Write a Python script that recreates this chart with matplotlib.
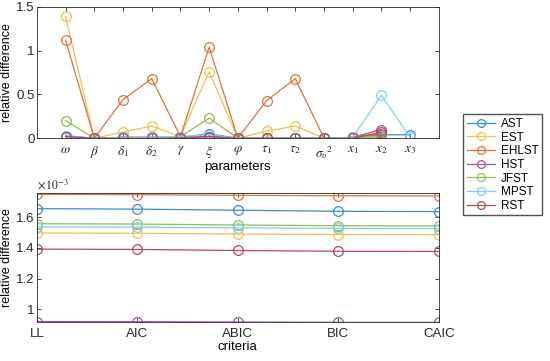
#!/usr/bin/env python3
"""Relative difference of parameter estimates (top) and information criteria (bottom) per model."""
import matplotlib
matplotlib.use("Agg")
import matplotlib.pyplot as plt  # noqa: E402

plt.rcParams["font.family"] = ["Liberation Sans", "DejaVu Sans"]
plt.rcParams["mathtext.fontset"] = "stix"

models = ["AST", "EST", "EHLST", "HST", "JFST", "MPST", "RST"]
colors = ["#3a8ccc", "#f0c050", "#e0703f", "#9a55a8", "#8fbf55", "#7fd0f0", "#b04a60"]

params = [r"$\omega$", r"$\beta$", r"$\delta_1$", r"$\delta_2$", r"$\gamma$", r"$\xi$",
          r"$\varphi$", r"$\tau_1$", r"$\tau_2$", r"$\sigma_\upsilon{}^2$",
          r"$x_1$", r"$x_2$", r"$x_3$"]

# relative difference per parameter (None = parameter not in model)
par_diff = {
    "AST":   [0.03, 0.0, 0.01, 0.01, 0.01, 0.05, 0.0, 0.0, 0.0, 0.0, 0.01, 0.04, 0.04],
    "EST":   [1.39, 0.0, 0.07, 0.14, 0.02, 0.76, 0.0, 0.08, 0.14, 0.0, 0.01, 0.01, None],
    "EHLST": [1.12, 0.0, 0.44, 0.68, 0.02, 1.04, 0.0, 0.43, 0.68, 0.0, 0.01, 0.05, None],
    "HST":   [0.02, 0.0, 0.01, 0.01, 0.01, 0.02, 0.0, 0.0, 0.0, 0.0, 0.01, 0.10, None],
    "JFST":  [0.20, 0.0, 0.01, 0.01, 0.02, 0.23, 0.0, 0.0, 0.0, 0.0, 0.01, 0.02, None],
    "MPST":  [0.03, 0.0, 0.01, 0.01, 0.02, 0.04, 0.0, 0.0, 0.0, 0.0, 0.01, 0.49, 0.01],
    "RST":   [0.02, 0.0, 0.0, 0.0, 0.0, 0.02, 0.0, 0.0, 0.0, 0.0, 0.0, 0.07, None],
}

criteria = ["LL", "AIC", "ABIC", "BIC", "CAIC"]
# values in units of 1e-3
crit_diff = {
    "AST":   [1.655, 1.652, 1.645, 1.638, 1.636],
    "EST":   [1.497, 1.495, 1.490, 1.487, 1.486],
    "EHLST": [1.748, 1.746, 1.742, 1.739, 1.738],
    "HST":   [0.921, 0.920, 0.918, 0.916, 0.916],
    "JFST":  [1.557, 1.555, 1.549, 1.544, 1.543],
    "MPST":  [1.537, 1.535, 1.530, 1.527, 1.526],
    "RST":   [1.392, 1.390, 1.383, 1.378, 1.377],
}
crit_ticks = [1.0, 1.2, 1.4, 1.6]
crit_ticklabels = ["1", "1.2", "1.4", "1.6"]

fig = plt.figure(figsize=(5.5, 3.61), dpi=100)
ax1 = fig.add_axes([0.067, 0.617, 0.731, 0.364])
ax2 = fig.add_axes([0.067, 0.108, 0.731, 0.357])

style = dict(marker="o", markersize=7, markerfacecolor="none", lw=0.9, mew=0.9)

for m, c in zip(models, colors):
    ys = [v for v in par_diff[m] if v is not None]
    ax1.plot(range(1, len(ys) + 1), ys, color=c, label=m, **style)
for m, c in zip(models, colors):
    ax2.plot(range(1, len(criteria) + 1), crit_diff[m], color=c, **style)

ax1.set_xlim(0, 14)
ax1.set_ylim(0, 1.5)
ax1.set_xticks(range(1, len(params) + 1))
ax1.set_xticklabels(params, fontsize=12)
ax1.set_yticks([0, 0.5, 1, 1.5])
ax1.set_yticklabels(["0", "0.5", "1", "1.5"])
ax1.set_xlabel("parameters", fontsize=9.5, labelpad=0)
ax1.set_ylabel("relative difference", fontsize=9)
ax1.yaxis.set_label_coords(-0.06, 0.5)

ax2.set_xlim(1, 5)
ax2.set_ylim(0.918, 1.756)
ax2.set_xticks(range(1, len(criteria) + 1))
ax2.set_xticklabels(criteria)
ax2.set_yticks(crit_ticks)
ax2.set_yticklabels(crit_ticklabels)
ax2.text(0.0, 1.015, r"$\times\,10^{-3}$", transform=ax2.transAxes, fontsize=8.5,
         color="#262626", va="bottom", ha="left")
ax2.set_xlabel("criteria", fontsize=9.5, labelpad=1)
ax2.set_ylabel("relative difference", fontsize=9)
ax2.yaxis.set_label_coords(-0.06, 0.5)

for ax in (ax1, ax2):
    ax.tick_params(direction="in", top=True, right=True, labelsize=9.5, length=3,
                   width=0.6, colors="#262626", pad=1.5)
    ax.tick_params(axis="x", pad=4)
    for s in ax.spines.values():
        s.set_color("#262626")
        s.set_linewidth(0.6)

fig.legend(*ax1.get_legend_handles_labels(), loc="upper left",
           bbox_to_anchor=(0.842, 0.683), fontsize=8.5, frameon=True, fancybox=False,
           edgecolor="#262626", handlelength=2.4, labelspacing=0.14, borderpad=0.3,
           handletextpad=0.5, borderaxespad=0, markerscale=0.8)

fig.savefig("out.png", dpi=100)
